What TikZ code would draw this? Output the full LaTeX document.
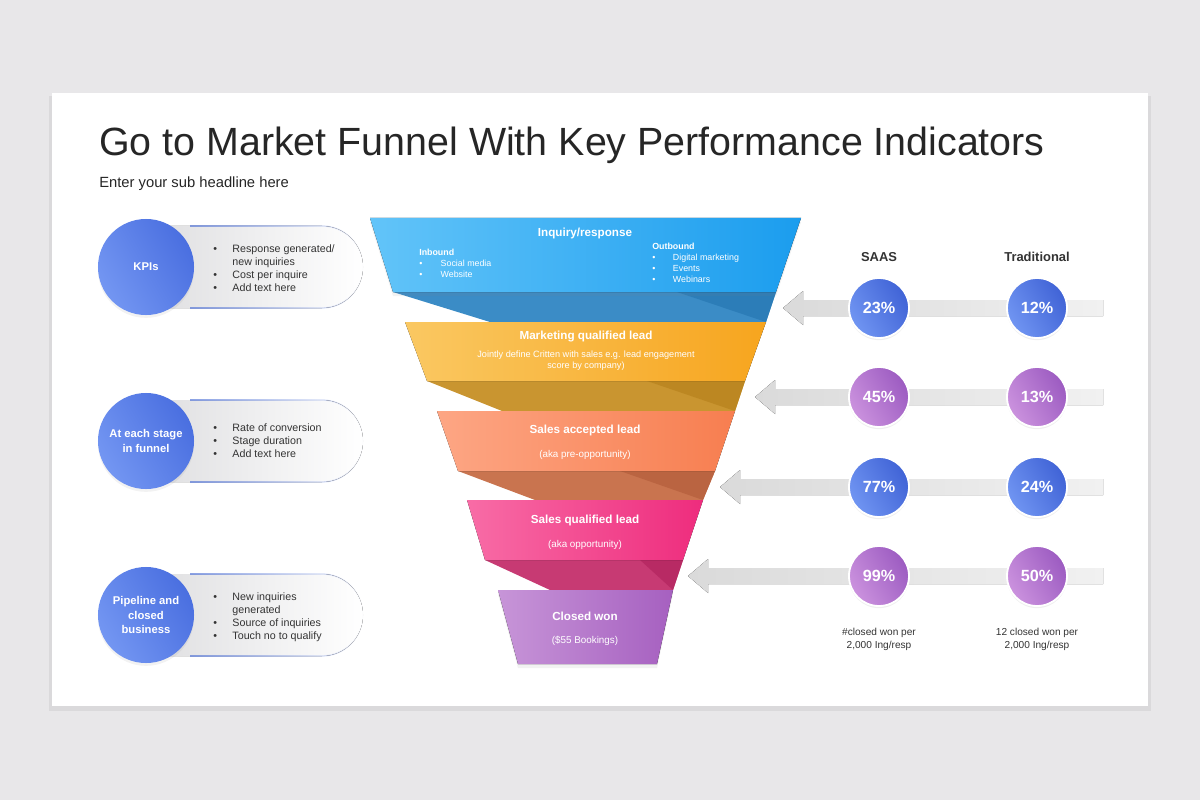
\documentclass[tikz,border=0pt]{standalone}
\usepackage{fontspec}
\setmainfont{Liberation Sans}
\usetikzlibrary{shadows,fadings}

\definecolor{bggray}{HTML}{E8E7E9}
\definecolor{titlecol}{HTML}{262626}
\definecolor{textcol}{HTML}{333333}
\definecolor{blueA}{HTML}{62C4F9}
\definecolor{blueB}{HTML}{1B9DEE}
\definecolor{blueFold}{HTML}{3B8CC6}
\definecolor{blueFoldD}{HTML}{2C7DB8}
\definecolor{orA}{HTML}{FAC862}
\definecolor{orB}{HTML}{F7A51E}
\definecolor{orFold}{HTML}{C99530}
\definecolor{orFoldD}{HTML}{BC8722}
\definecolor{saA}{HTML}{FDA684}
\definecolor{saB}{HTML}{F77E50}
\definecolor{saFold}{HTML}{C9744F}
\definecolor{saFoldD}{HTML}{BA6441}
\definecolor{piA}{HTML}{F86CA6}
\definecolor{piB}{HTML}{EE2C7D}
\definecolor{piFold}{HTML}{C73A73}
\definecolor{piFoldD}{HTML}{B82A64}
\definecolor{puA}{HTML}{C795D8}
\definecolor{puB}{HTML}{A660C0}
\definecolor{kpiA}{HTML}{7396F2}
\definecolor{kpiB}{HTML}{4A6FE0}
\definecolor{pillline}{HTML}{4C6FD6}
\definecolor{pillgray}{HTML}{DEDEE0}
\definecolor{pctBA}{HTML}{7095F2}
\definecolor{pctBB}{HTML}{4063D6}
\definecolor{pctPA}{HTML}{CB92DE}
\definecolor{pctPB}{HTML}{9C5BC1}
\definecolor{arrA}{HTML}{DADADA}
\definecolor{arrB}{HTML}{F1F1F1}

\begin{document}
\begin{tikzpicture}[x=0.025cm,y=-0.025cm,
  stagehead/.style={text=white,font=\fontsize{8.3}{9}\selectfont\bfseries},
  stagesub/.style={text=white,font=\fontsize{7}{7.6}\selectfont,align=center},
  inout/.style={text=white,font=\fontsize{6.3}{7.8}\selectfont,anchor=north west,inner sep=0pt},
  kpicircle/.style={circle,minimum size=2.4cm,inner sep=0pt,left color=kpiA,right color=kpiB,shading angle=120,
    text=white,align=center,font=\fontsize{8}{10}\selectfont\bfseries,
    drop shadow={opacity=0.1,shadow xshift=0pt,shadow yshift=-2pt}},
  bullets/.style={text=textcol,font=\fontsize{7.6}{9.3}\selectfont,anchor=west,inner sep=0pt},
  pct/.style={circle,minimum size=1.5cm,inner sep=0pt,draw=white,line width=1.3pt,
    text=white,font=\fontsize{11.5}{13}\selectfont\bfseries,
    drop shadow={opacity=0.12,shadow xshift=0pt,shadow yshift=-1.5pt}},
  pctblue/.style={pct,left color=pctBA,right color=pctBB,shading angle=120},
  pctpurple/.style={pct,left color=pctPA,right color=pctPB,shading angle=120},
  colhead/.style={text=textcol,font=\fontsize{9.2}{11}\selectfont\bfseries},
  note/.style={text=textcol,font=\fontsize{7.2}{9.2}\selectfont,align=center}]

\useasboundingbox (0,0) rectangle (1200,800);
\fill[bggray] (0,0) rectangle (1200,800);

% slide
\fill[black,opacity=0.06] (49,96) rectangle (1151,711);
\fill[white] (52,93) rectangle (1148,706);

\node[anchor=base west,inner sep=0pt,text=titlecol,font=\fontsize{28}{32}\selectfont] (title) at (99,156)
  {Go to Market Funnel With Key Performance Indicators};
\node[anchor=base west,inner sep=0pt,text=titlecol,font=\fontsize{10.5}{12}\selectfont] (subtitle) at (99,188)
  {Enter your sub headline here};

% funnel folds
\fill[blueFold] (393,292) -- (776,292) -- (766,322) -- (490,322) -- cycle;
\fill[blueFoldD] (677,292) -- (776,292) -- (766,322) -- cycle;
\fill[orFold] (427,381) -- (745,381) -- (735,411) -- (502,411) -- cycle;
\fill[orFoldD] (647,381) -- (745,381) -- (735,411) -- cycle;
\fill[saFold] (458,471) -- (715,471) -- (703,500) -- (535,500) -- cycle;
\fill[saFoldD] (620,471) -- (715,471) -- (703,500) -- cycle;
\fill[piFold] (485,560) -- (683,560) -- (673,590) -- (550,590) -- cycle;
\fill[piFoldD] (640,560) -- (683,560) -- (673,590) -- cycle;

% funnel stages
\fill[left color=blueA,right color=blueB,drop shadow={opacity=0.1,shadow yshift=-3pt,shadow xshift=0pt}]
  (370,218) -- (801,218) -- (776,292) -- (393,292) -- cycle;
\fill[left color=orA,right color=orB] (405,322) -- (766,322) -- (745,381) -- (427,381) -- cycle;
\fill[left color=saA,right color=saB] (437,411) -- (735,411) -- (715,471) -- (458,471) -- cycle;
\fill[left color=piA,right color=piB] (467,500) -- (703,500) -- (683,560) -- (485,560) -- cycle;
\fill[left color=puA,right color=puB,drop shadow={opacity=0.1,shadow yshift=-3pt,shadow xshift=0pt}]
  (498,590) -- (673,590) -- (657,664) -- (518,664) -- cycle;

\node[stagehead] (inquiry) at (585,233) {Inquiry/response};
\node[inout] (inbound) at (419,248) {\begin{tabular}{@{}l@{\hspace{13pt}}l@{}}
  \multicolumn{2}{@{}l}{\bfseries Inbound}\\
  \textbullet & Social media\\
  \textbullet & Website
\end{tabular}};
\node[inout] (outbound) at (652,242) {\begin{tabular}{@{}l@{\hspace{12.5pt}}l@{}}
  \multicolumn{2}{@{}l}{\bfseries Outbound}\\
  \textbullet & Digital marketing\\
  \textbullet & Events\\
  \textbullet & Webinars
\end{tabular}};

\node[stagehead] (mql) at (586,337) {Marketing qualified lead};
\node[stagesub,font=\fontsize{6.5}{8}\selectfont] (mqlsub) at (586,361) {Jointly define Critten with sales e.g. lead engagement\\score by company)};
\node[stagehead] (sal) at (585,430) {Sales accepted lead};
\node[stagesub] (salsub) at (585,455) {(aka pre-opportunity)};
\node[stagehead] (sql) at (585,520) {Sales qualified lead};
\node[stagesub] (sqlsub) at (585,545) {(aka opportunity)};
\node[stagehead] (won) at (585,616) {Closed won};
\node[stagesub] (wonsub) at (585,641) {(\$55 Bookings)};

% left panels
\foreach \cy in {267,441,615} {
  \fill[left color=pillgray,right color=white] (146,\cy-41) -- (322,\cy-41) arc (-90:90:41) -- (146,\cy+41) -- cycle;
  \draw[pillline,line width=0.9pt,path fading=east] (190,\cy-41) -- (322,\cy-41) arc (-90:90:41) -- (190,\cy+41);
}
\node[kpicircle] (kpis) at (146,267) {KPIs};
\node[kpicircle] (stage) at (146,441) {At each stage\\in funnel};
\node[kpicircle] (pipeline) at (146,615) {Pipeline and\\closed\\business};

\node[bullets] (kpilist) at (213,269) {\begin{tabular}{@{}l@{\hspace{11pt}}l@{}}
  \textbullet & Response generated/\\
              & new inquiries\\
  \textbullet & Cost per inquire\\
  \textbullet & Add text here
\end{tabular}};
\node[bullets] (stagelist) at (213,442) {\begin{tabular}{@{}l@{\hspace{11pt}}l@{}}
  \textbullet & Rate of conversion\\
  \textbullet & Stage duration\\
  \textbullet & Add text here
\end{tabular}};
\node[bullets] (pipelist) at (213,617) {\begin{tabular}{@{}l@{\hspace{11pt}}l@{}}
  \textbullet & New inquiries\\
              & generated\\
  \textbullet & Source of inquiries\\
  \textbullet & Touch no to qualify
\end{tabular}};

% right side
\node[colhead] (saas) at (879,257) {SAAS};
\node[colhead] (trad) at (1037,257) {Traditional};

\foreach \c/\t in {308/783,397/755,487/720,576/688}
  \fill[left color=arrA,right color=arrB] (1103,\c-8) -- (\t+20,\c-8) -- (\t+20,\c-17) -- (\t,\c)
    -- (\t+20,\c+17) -- (\t+20,\c+8) -- (1103,\c+8) -- cycle;

\node[pctblue] (s1) at (879,308) {23\%};
\node[pctblue] (t1) at (1037,308) {12\%};
\node[pctpurple] (s2) at (879,397) {45\%};
\node[pctpurple] (t2) at (1037,397) {13\%};
\node[pctblue] (s3) at (879,487) {77\%};
\node[pctblue] (t3) at (1037,487) {24\%};
\node[pctpurple] (s4) at (879,576) {99\%};
\node[pctpurple] (t4) at (1037,576) {50\%};

\node[note] (saasnote) at (879,639) {\#closed won per\\2,000 Ing/resp};
\node[note] (tradnote) at (1037,639) {12 closed won per\\2,000 Ing/resp};
\end{tikzpicture}
\end{document}
